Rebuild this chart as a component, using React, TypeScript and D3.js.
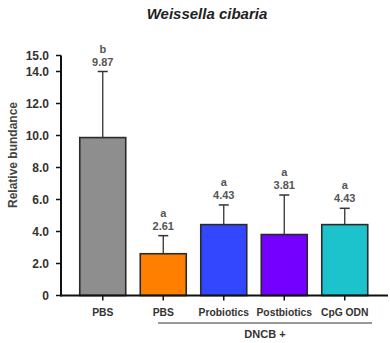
import React from "react";
import * as d3 from "d3";

const categories = ["PBS", "PBS2", "Probiotics", "Postbiotics", "CpG ODN"];
const categoryLabels = ["PBS", "PBS", "Probiotics", "Postbiotics", "CpG ODN"];
const means = [9.87, 2.61, 4.43, 3.81, 4.43];
const errTops = [14.0, 3.74, 5.66, 6.28, 5.45];
const letters = ["b", "a", "a", "a", "a"];
const colors = ["#8e8e8e", "#ff8000", "#3347ff", "#7400ff", "#1cc3cc"];
const yTicks = [0, 2, 4, 6, 8, 10, 12, 14, 15];

export default function App() {
  const W = 390, H = 343;
  const y = d3.scaleLinear().domain([0, 15]).range([295.5, 55.5]);
  const x = d3.scaleBand().domain(categories).range([72.5, 375]).paddingInner(0.24).paddingOuter(0.12);
  const font = "Liberation Sans, Arial, sans-serif";
  const txt = "#333";
  const axisX = 61;
  return (
    <svg width={W} height={H} style={{ position: "absolute", left: 0, top: 0 }} fontFamily={font}>
      <rect width={W} height={H} fill="#fff" />
      <text x={207} y={19} textAnchor="middle" fontSize={15} fontWeight="bold" fontStyle="italic" fill="#222">Weissella cibaria</text>
      <text transform={`translate(17,155) rotate(-90)`} textAnchor="middle" fontSize={12} fontWeight="bold" fill="#444">Relative bundance</text>
      {categories.map((c, i) => {
        const bx = x(c)!;
        const bw = x.bandwidth();
        const cx = bx + bw / 2;
        return (
          <g key={c}>
            <line x1={cx} x2={cx} y1={y(means[i])} y2={y(errTops[i])} stroke="#333" strokeWidth={1.3} />
            <line x1={cx - 5} x2={cx + 5} y1={y(errTops[i])} y2={y(errTops[i])} stroke="#333" strokeWidth={1.5} />
            <rect x={bx} y={y(means[i])} width={bw} height={y(0) - y(means[i])} fill={colors[i]} stroke="#2a2a2a" strokeWidth={1.6} />
            <text x={cx} y={y(errTops[i]) - 6} textAnchor="middle" fontSize={11} fontWeight="bold" fill="#555">{means[i].toFixed(2)}</text>
            <text x={cx} y={y(errTops[i]) - 19} textAnchor="middle" fontSize={11} fontWeight="bold" fill="#555">{letters[i]}</text>
            <line x1={cx} x2={cx} y1={y(0)} y2={y(0) + 5} stroke="#111" strokeWidth={1.5} />
            <text x={cx} y={316} textAnchor="middle" fontSize={10.3} fontWeight="bold" fill={txt}>{categoryLabels[i]}</text>
          </g>
        );
      })}
      <line x1={axisX} x2={axisX} y1={y(15)} y2={y(0) + 1} stroke="#111" strokeWidth={2} />
      {yTicks.map((t) => (
        <g key={t}>
          <line x1={axisX - 5} x2={axisX} y1={y(t)} y2={y(t)} stroke="#111" strokeWidth={1.5} />
          <text x={axisX - 12} y={y(t) + 4} textAnchor="end" fontSize={12} fontWeight="bold" fill={txt}>{t === 0 ? "0" : t.toFixed(1)}</text>
        </g>
      ))}
      <line x1={axisX} x2={388} y1={y(0)} y2={y(0)} stroke="#111" strokeWidth={2} />
      <line x1={158} x2={372} y1={323} y2={323} stroke="#333" strokeWidth={1} />
      <text x={265} y={338} textAnchor="middle" fontSize={11} fontWeight="bold" fill={txt}>DNCB +</text>
    </svg>
  );
}
